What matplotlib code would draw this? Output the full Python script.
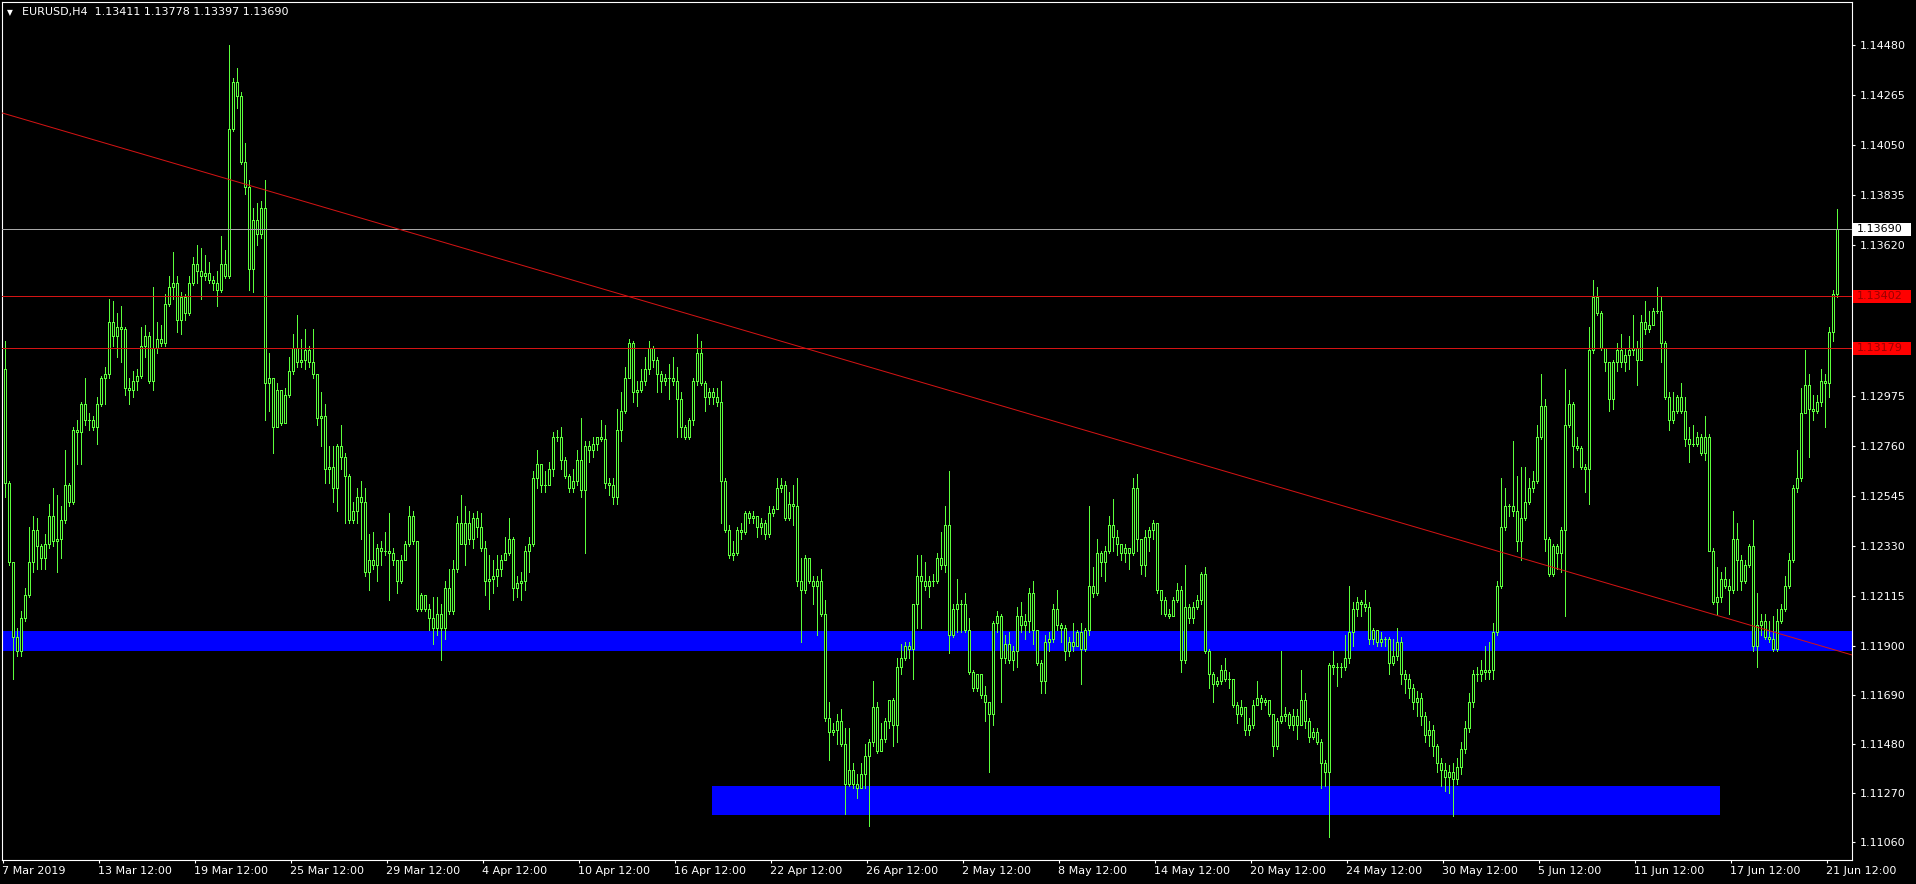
import numpy as np
import matplotlib
matplotlib.use("Agg")
import matplotlib.pyplot as plt
from matplotlib.patches import Rectangle
import matplotlib.transforms as mtransforms

# ---------------- data (prices in pips above 1.1000) ----------------
BASE = 1.1
first_open = 309
closes = [
    260, 226, 194, 188, 202, 212, 226, 240, 233, 228,
    234, 246, 235, 236, 244, 259, 252, 283, 282, 294,
    287, 287, 284, 294, 305, 307, 329, 323, 327, 326,
    301, 300, 304, 306, 319, 323, 304, 318, 322, 320,
    337, 344, 346, 330, 340, 333, 346, 354, 351, 349,
    350, 347, 346, 343, 354, 349, 412, 432, 426, 398,
    387, 352, 373, 367, 378, 303, 305, 284, 300, 286,
    298, 308, 318, 312, 313, 317, 312, 307, 288, 289,
    266, 267, 258, 276, 271, 263, 244, 248, 254, 252,
    222, 227, 225, 232, 231, 231, 230, 227, 218, 227,
    234, 246, 235, 206, 212, 206, 202, 198, 204, 198,
    215, 205, 223, 243, 234, 243, 236, 245, 241, 232,
    218, 219, 220, 223, 227, 230, 236, 215, 217, 218,
    231, 234, 262, 268, 259, 259, 266, 280, 280, 270,
    263, 258, 261, 270, 257, 276, 274, 277, 280, 279,
    260, 259, 254, 283, 291, 305, 320, 299, 300, 304,
    309, 318, 313, 307, 304, 305, 305, 304, 296, 284,
    280, 287, 304, 316, 303, 297, 299, 297, 295, 261,
    240, 229, 230, 240, 239, 247, 245, 246, 241, 243,
    238, 247, 249, 258, 259, 245, 251, 250, 218, 214,
    228, 218, 216, 218, 204, 159, 153, 154, 158, 148,
    131, 137, 131, 129, 135, 143, 149, 164, 145, 150,
    158, 167, 156, 181, 185, 190, 189, 208, 220, 218,
    216, 218, 218, 228, 225, 242, 195, 206, 208, 208,
    197, 179, 172, 178, 169, 166, 161, 200, 203, 185,
    191, 184, 188, 203, 199, 201, 213, 197, 183, 175,
    192, 193, 206, 199, 198, 188, 192, 190, 196, 189,
    197, 216, 213, 230, 226, 231, 242, 237, 234, 230,
    232, 230, 258, 236, 225, 237, 240, 243, 214, 210,
    204, 203, 210, 214, 184, 207, 202, 207, 210, 221,
    188, 178, 174, 175, 180, 176, 176, 165, 161, 164,
    154, 156, 165, 168, 166, 167, 161, 147, 158, 160,
    161, 156, 160, 156, 167, 158, 151, 153, 149, 140,
    136, 182, 181, 181, 181, 185, 196, 206, 209, 208,
    207, 193, 197, 192, 193, 193, 183, 186, 192, 178,
    176, 172, 166, 168, 160, 152, 154, 147, 140, 137,
    134, 136, 133, 138, 146, 155, 166, 178, 178, 180,
    179, 180, 196, 216, 241, 250, 250, 248, 235, 245,
    252, 258, 261, 280, 293, 236, 221, 233, 230, 240,
    285, 294, 276, 275, 267, 266, 317, 340, 333, 318,
    312, 296, 312, 317, 312, 315, 317, 318, 313, 329,
    326, 328, 334, 334, 320, 297, 287, 291, 297, 291,
    279, 277, 277, 280, 273, 280, 231, 209, 211, 219,
    216, 214, 236, 227, 218, 225, 233, 190, 199, 201,
    194, 193, 189, 201, 206, 216, 227, 258, 262, 290,
    302, 292, 291, 295, 304, 303, 325, 341.1, 369.0,
]
highs = [
    321, 261, 226, 198, 205, 215, 241, 246, 245, 234,
    238, 251, 258, 255, 250, 274, 260, 284, 287, 295,
    305, 290, 289, 297, 306, 310, 339, 338, 333, 336,
    327, 305, 308, 309, 327, 328, 325, 344, 329, 328,
    341, 349, 359, 349, 342, 341, 349, 357, 362, 361,
    358, 355, 349, 351, 366, 360, 448, 434, 438, 428,
    406, 390, 378, 380, 381, 390, 316, 305, 303, 299,
    301, 314, 324, 332, 322, 326, 319, 326, 307, 299,
    294, 276, 276, 277, 285, 273, 264, 252, 258, 261,
    258, 238, 239, 234, 235, 239, 247, 232, 227, 229,
    235, 250, 248, 235, 213, 212, 208, 211, 211, 208,
    218, 223, 227, 246, 255, 250, 248, 247, 248, 247,
    235, 229, 227, 229, 229, 237, 245, 237, 220, 222,
    233, 237, 265, 274, 268, 265, 269, 282, 283, 284,
    271, 264, 266, 274, 288, 278, 278, 280, 280, 287,
    285, 262, 262, 292, 299, 310, 322, 321, 304, 309,
    314, 321, 319, 314, 308, 307, 311, 314, 310, 299,
    285, 288, 305, 324, 321, 304, 301, 301, 301, 304,
    262, 242, 235, 241, 243, 248, 248, 248, 246, 245,
    244, 250, 250, 262, 262, 261, 256, 259, 262, 228,
    229, 227, 220, 220, 223, 210, 166, 157, 161, 163,
    155, 155, 140, 135, 140, 148, 150, 175, 166, 157,
    159, 167, 168, 185, 191, 192, 192, 208, 229, 229,
    226, 220, 221, 230, 239, 250, 265, 208, 219, 210,
    213, 202, 180, 178, 178, 173, 166, 201, 205, 204,
    195, 196, 190, 207, 209, 204, 215, 218, 197, 184,
    195, 196, 208, 214, 200, 199, 194, 200, 197, 200,
    198, 250, 224, 236, 231, 233, 246, 253, 240, 234,
    234, 232, 262, 264, 236, 240, 241, 244, 243, 214,
    211, 206, 211, 217, 216, 225, 208, 209, 212, 222,
    224, 189, 179, 177, 182, 185, 179, 176, 166, 167,
    161, 159, 167, 175, 169, 168, 166, 161, 159, 188,
    164, 162, 163, 163, 180, 170, 159, 155, 155, 150,
    141, 183, 188, 183, 183, 195, 216, 209, 211, 210,
    214, 209, 198, 197, 196, 194, 194, 193, 198, 194,
    180, 178, 174, 171, 170, 162, 158, 156, 148, 142,
    140, 139, 140, 142, 149, 158, 170, 180, 181, 184,
    190, 192, 200, 218, 262, 258, 251, 278, 263, 267,
    267, 262, 265, 285, 307, 296, 237, 234, 234, 241,
    309, 300, 295, 280, 276, 268, 327, 347, 344, 334,
    317, 312, 313, 320, 324, 318, 323, 332, 321, 332,
    338, 334, 335, 344, 340, 321, 299, 299, 298, 303,
    297, 284, 285, 282, 281, 289, 281, 232, 224, 222,
    224, 219, 248, 243, 229, 227, 234, 244, 213, 204,
    204, 201, 203, 206, 208, 220, 230, 259, 274, 301,
    317, 307, 298, 298, 309, 307, 327, 343, 377.8,
]
lows = [
    254, 225, 176, 186, 186, 201, 211, 222, 223, 223,
    223, 232, 233, 222, 228, 243, 250, 251, 268, 268,
    285, 283, 283, 277, 293, 294, 305, 319, 314, 312,
    298, 294, 297, 300, 305, 314, 303, 300, 316, 319,
    319, 336, 339, 325, 324, 330, 332, 345, 346, 339,
    347, 346, 343, 336, 342, 348, 348, 411, 421, 397,
    384, 343, 342, 362, 365, 287, 291, 273, 284, 285,
    289, 297, 307, 310, 310, 309, 310, 305, 285, 276,
    260, 260, 252, 248, 266, 243, 243, 243, 243, 236,
    220, 214, 223, 218, 225, 229, 210, 225, 213, 217,
    227, 233, 234, 205, 205, 205, 197, 191, 195, 184,
    193, 204, 204, 222, 234, 225, 234, 232, 237, 231,
    212, 206, 213, 216, 220, 227, 229, 210, 211, 210,
    214, 222, 233, 258, 256, 256, 259, 263, 278, 266,
    262, 256, 256, 259, 254, 230, 269, 271, 274, 278,
    258, 255, 251, 251, 278, 290, 305, 295, 293, 299,
    302, 307, 310, 299, 299, 302, 296, 302, 280, 280,
    279, 279, 285, 302, 302, 291, 294, 294, 293, 243,
    239, 228, 227, 229, 236, 238, 243, 243, 237, 238,
    236, 237, 246, 249, 256, 244, 244, 242, 216, 192,
    213, 217, 208, 195, 203, 158, 141, 152, 148, 147,
    118, 130, 129, 125, 129, 129, 113, 147, 144, 145,
    149, 155, 147, 149, 178, 184, 185, 176, 198, 198,
    214, 211, 216, 217, 223, 222, 187, 194, 196, 196,
    196, 178, 171, 171, 168, 158, 136, 156, 196, 166,
    183, 183, 180, 181, 196, 193, 196, 191, 182, 170,
    170, 188, 192, 197, 192, 184, 186, 188, 190, 174,
    188, 195, 211, 212, 220, 218, 230, 231, 229, 227,
    226, 223, 229, 231, 221, 220, 231, 236, 213, 204,
    203, 202, 203, 209, 179, 183, 200, 200, 206, 208,
    187, 172, 166, 173, 174, 175, 172, 164, 157, 160,
    152, 152, 155, 165, 163, 165, 160, 143, 146, 157,
    158, 155, 154, 150, 159, 155, 149, 150, 148, 129,
    130, 108, 178, 173, 177, 180, 183, 190, 203, 203,
    205, 191, 191, 190, 190, 190, 178, 182, 184, 174,
    170, 168, 163, 160, 156, 149, 147, 143, 136, 130,
    128, 127, 117, 131, 135, 144, 153, 164, 175, 175,
    176, 176, 176, 195, 215, 240, 246, 246, 231, 227,
    244, 251, 256, 260, 279, 231, 220, 220, 223, 222,
    203, 284, 267, 274, 266, 256, 251, 316, 332, 317,
    308, 291, 292, 308, 310, 308, 309, 315, 302, 313,
    324, 325, 328, 333, 312, 296, 283, 286, 290, 290,
    276, 269, 276, 276, 272, 270, 231, 208, 204, 209,
    215, 204, 213, 214, 214, 217, 224, 188, 181, 195,
    193, 192, 188, 188, 200, 205, 215, 226, 256, 261,
    290, 271, 287, 290, 293, 284, 297, 321, 339.7,
]

date_labels = ["7 Mar 2019", "13 Mar 12:00", "19 Mar 12:00", "25 Mar 12:00",
               "29 Mar 12:00", "4 Apr 12:00", "10 Apr 12:00", "16 Apr 12:00",
               "22 Apr 12:00", "26 Apr 12:00", "2 May 12:00", "8 May 12:00",
               "14 May 12:00", "20 May 12:00", "24 May 12:00", "30 May 12:00",
               "5 Jun 12:00", "11 Jun 12:00", "17 Jun 12:00", "21 Jun 12:00"]
bars_per_label = 24
price_ticks = [1.14480, 1.14265, 1.14050, 1.13835, 1.13620, 1.13405, 1.13190,
               1.12975, 1.12760, 1.12545, 1.12330, 1.12115, 1.11900, 1.11690,
               1.11480, 1.11270, 1.11060]
title_symbol = "EURUSD,H4"
title_ohlc = [1.13411, 1.13778, 1.13397, 1.13690]
bid_price = 1.13690
red_levels = [1.13402, 1.13179]
zone_upper = (1.11881, 1.11967)          # full-width support zone
zone_lower = (1.11176, 1.11300)          # lower demand zone
zone_lower_bars = (176.75, 428.75)
trend_bars = [-0.5, 462.0]
trend_prices = [1.14188, 1.11862]

# ---------------- style ----------------
W, H = 1916, 884
GREEN = "#5cff3c"
RED_LINE = "#d41414"
FONT = "DejaVu Sans"
FS = 8
LW = 0.72   # one pixel

fig = plt.figure(figsize=(W / 100, H / 100), dpi=100, facecolor="black")
ax = fig.add_axes([2 / W, 24 / H, 1850 / W, 858 / H], facecolor="black")

n = len(closes)
x = np.arange(n)
C = BASE + np.array(closes, dtype=float) / 1e4
O = BASE + np.array([first_open] + closes[:-1], dtype=float) / 1e4
Hh = BASE + np.array(highs, dtype=float) / 1e4
Ll = BASE + np.array(lows, dtype=float) / 1e4
Hh = np.maximum(Hh, np.maximum(O, C))
Ll = np.minimum(Ll, np.minimum(O, C))

# bar centres fall on pixel centres (4 px per bar)
ax.set_xlim(-0.625, 461.875)
ax.set_ylim(1.109828, 1.146645)

# zones (background)
ax.add_patch(Rectangle((-0.625, zone_upper[0]), 462.5, zone_upper[1] - zone_upper[0],
                       facecolor="#0000ff", edgecolor="none", zorder=1))
ax.add_patch(Rectangle((zone_lower_bars[0], zone_lower[0]),
                       zone_lower_bars[1] - zone_lower_bars[0], zone_lower[1] - zone_lower[0],
                       facecolor="#0000ff", edgecolor="none", zorder=1))

# candles
ax.vlines(x, Ll, Hh, color=GREEN, linewidth=LW, zorder=3, antialiased=False)
body_lo = np.minimum(O, C)
body_h = np.abs(C - O)
ax.bar(x, body_h, bottom=body_lo, width=0.5, facecolor="black", edgecolor=GREEN,
       linewidth=LW, zorder=4, antialiased=False)

# lines
ax.axhline(bid_price, color="#a8a8a8", linewidth=LW, zorder=5)
for lv in red_levels:
    ax.axhline(lv, color=RED_LINE, linewidth=LW, zorder=5)
ax.plot(trend_bars, trend_prices, color=RED_LINE, linewidth=LW, zorder=5)

# spines
for s in ax.spines.values():
    s.set_color("white")
    s.set_linewidth(0.8)

# y axis on the right
ax.yaxis.tick_right()
ax.set_yticks(price_ticks)
ax.set_yticklabels([f"{p:.5f}" for p in price_ticks])
ax.tick_params(axis="y", colors="white", length=2.5, width=0.8, pad=3,
               labelsize=FS, labelfontfamily=FONT)

# x axis
xt = [bars_per_label * k - 0.5 for k in range(len(date_labels))]
ax.set_xticks(xt)
ax.set_xticklabels(date_labels)
ax.tick_params(axis="x", colors="white", length=2.5, width=0.8, pad=2,
               labelsize=FS, labelfontfamily=FONT)
for lab in ax.get_xticklabels():
    lab.set_horizontalalignment("left")

# price tags on the right
blend = mtransforms.blended_transform_factory(ax.transAxes, ax.transData)
px_y = (1.146645 - 1.109828) / 858.0
px_x = 1.0 / 1850.0
tags = [(bid_price, "white", "black")] + [(lv, "#ff0000", "#9a0000") for lv in red_levels]
for price, bg, fg in tags:
    ax.add_patch(Rectangle((1.0 + 1 * px_x, price - 6.5 * px_y), 58 * px_x, 13 * px_y,
                           transform=blend, facecolor=bg, edgecolor="none",
                           clip_on=False, zorder=6))
    ax.text(1.0 + 5 * px_x, price, f"{price:.5f}", transform=blend, color=fg,
            fontsize=FS, family=FONT, ha="left", va="center", clip_on=False, zorder=7)

# title
fig.text(7 / W, 1 - 12.5 / H, "\u25bc", color="white", fontsize=5.5, family=FONT,
         ha="left", va="center")
fig.text(22 / W, 1 - 12.5 / H,
         title_symbol + "  " + " ".join(f"{v:.5f}" for v in title_ohlc),
         color="white", fontsize=FS, family=FONT, ha="left", va="center")

fig.savefig("out.png", dpi=100, facecolor="black")
